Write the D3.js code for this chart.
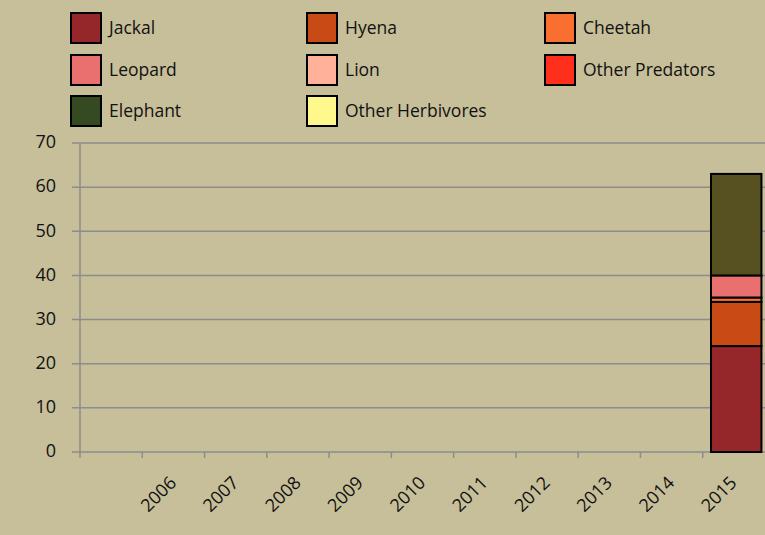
<!DOCTYPE html>
<html>
<head>
<meta charset="utf-8">
<script src="https://cdn.jsdelivr.net/npm/d3@7/dist/d3.min.js"></script>
<style>
  body { margin: 0; background: #c7bf99; }
  svg { display: block; font-family: "Open Sans", "DejaVu Sans", sans-serif; }
</style>
</head>
<body>
<div id="chart"></div>
<script>
// categories (first slot has no label)
const years = ["", "2006", "2007", "2008", "2009", "2010", "2011", "2012", "2013", "2014", "2015"];

// series, stacked bottom to top
const species = ["Jackal", "Hyena", "Cheetah", "Leopard", "Lion", "Other Predators", "Elephant", "Other Herbivores"];
const jackal     = [0, 0, 0, 0, 0, 0, 0, 0, 0, 0, 24];
const hyena      = [0, 0, 0, 0, 0, 0, 0, 0, 0, 0, 10];
const cheetah    = [0, 0, 0, 0, 0, 0, 0, 0, 0, 0, 1];
const leopard    = [0, 0, 0, 0, 0, 0, 0, 0, 0, 0, 5];
const lion       = [0, 0, 0, 0, 0, 0, 0, 0, 0, 0, 0];
const otherPred  = [0, 0, 0, 0, 0, 0, 0, 0, 0, 0, 0];
const elephant   = [0, 0, 0, 0, 0, 0, 0, 0, 0, 0, 23];
const otherHerb  = [0, 0, 0, 0, 0, 0, 0, 0, 0, 0, 0];

const yTicks = [0, 10, 20, 30, 40, 50, 60, 70];

// colours used in the bars / in the legend (elephant differs in the original)
const barColors    = ["#952629", "#c84b16", "#f86f2f", "#ea7070", "#ffb199", "#ff2f1b", "#575020", "#fff98d"];
const legendColors = ["#952629", "#c84b16", "#f86f2f", "#ea7070", "#ffb199", "#ff2f1b", "#364a22", "#fff98d"];

const width = 765, height = 535;
const margin = {top: 143, right: 0, bottom: 83, left: 80};

const svg = d3.select("#chart").append("svg")
    .attr("width", width)
    .attr("height", height);

// build table for stacking
const series = [jackal, hyena, cheetah, leopard, lion, otherPred, elephant, otherHerb];
const table = years.map((y, i) => {
    let row = {year: y, idx: i};
    species.forEach((s, j) => row[s] = series[j][i]);
    return row;
});
const stacked = d3.stack().keys(species)(table);

const x = d3.scaleBand()
    .domain(d3.range(years.length))
    .range([margin.left, width - margin.right])
    .paddingInner(0.19)
    .paddingOuter(0.095)
    .align(0.7);

const y = d3.scaleLinear()
    .domain([0, 70])
    .range([height - margin.bottom, margin.top]);

const grey = "#8c8c8c";

// gridlines
svg.append("g")
    .selectAll("line")
    .data(yTicks)
    .join("line")
    .attr("x1", margin.left - 8)
    .attr("x2", width)
    .attr("y1", d => y(d))
    .attr("y2", d => y(d))
    .attr("stroke", grey)
    .attr("stroke-width", 1.5);

// y axis line
svg.append("line")
    .attr("x1", margin.left).attr("x2", margin.left)
    .attr("y1", y(70)).attr("y2", y(0) + 6)
    .attr("stroke", grey)
    .attr("stroke-width", 1.5);

// y labels
svg.append("g")
    .selectAll("text")
    .data(yTicks)
    .join("text")
    .attr("x", 56)
    .attr("y", d => y(d) - 1)
    .attr("dy", "0.35em")
    .attr("text-anchor", "end")
    .attr("font-size", 18)
    .attr("fill", "#111")
    .text(d => d);

// x ticks at band boundaries
const slot = (width - margin.left - margin.right) / years.length;
const bounds = d3.range(1, years.length).map(i => margin.left + i * slot);
svg.append("g")
    .selectAll("line")
    .data(bounds)
    .join("line")
    .attr("x1", d => d).attr("x2", d => d)
    .attr("y1", y(0)).attr("y2", y(0) + 6)
    .attr("stroke", grey)
    .attr("stroke-width", 1.5);

// x labels, rotated
svg.append("g")
    .selectAll("text")
    .data(years)
    .join("text")
    .attr("transform", (d, i) => `translate(${margin.left + (i + 0.5) * slot + 4}, ${y(0) + 32}) rotate(-45)`)
    .attr("text-anchor", "end")
    .attr("font-size", 18)
    .attr("fill", "#111")
    .text(d => d);

// bars
svg.append("g")
    .selectAll("g")
    .data(stacked)
    .join("g")
    .attr("fill", (d, i) => barColors[i])
    .selectAll("rect")
    .data(d => d.filter(p => p[1] - p[0] > 0))
    .join("rect")
    .attr("x", d => x(d.data.idx))
    .attr("width", x.bandwidth())
    .attr("y", d => y(d[1]))
    .attr("height", d => y(d[0]) - y(d[1]))
    .attr("stroke", "#000")
    .attr("stroke-width", 2);

// legend
const legendCols = [70, 306, 544];
const legendRows = [12, 54, 95];
const legend = svg.append("g")
    .selectAll("g")
    .data(species)
    .join("g")
    .attr("transform", (d, i) => `translate(${legendCols[i % 3]}, ${legendRows[Math.floor(i / 3)]})`);

legend.append("rect")
    .attr("x", 1).attr("y", 1)
    .attr("width", 30).attr("height", 30)
    .attr("fill", (d, i) => legendColors[i])
    .attr("stroke", "#000")
    .attr("stroke-width", 2);

legend.append("text")
    .attr("x", 39)
    .attr("y", 16)
    .attr("dy", "0.35em")
    .attr("font-size", 17.5)
    .attr("fill", "#111")
    .text(d => d);
</script>
</body>
</html>
